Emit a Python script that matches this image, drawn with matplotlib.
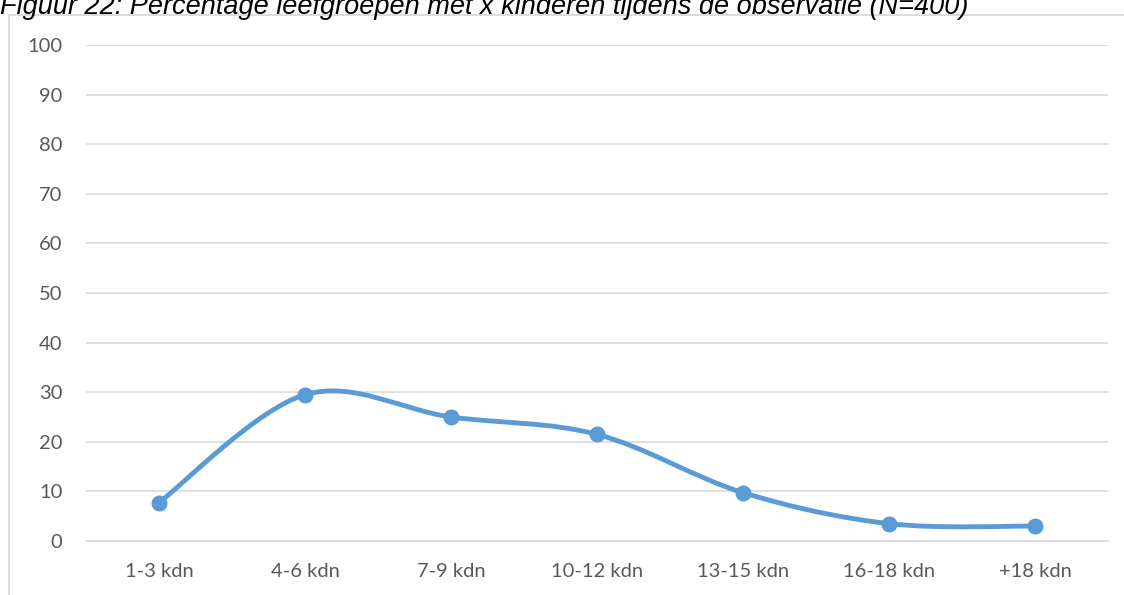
import matplotlib
matplotlib.use('Agg')
from matplotlib import pyplot as plt
from matplotlib.path import Path
from matplotlib.patches import PathPatch, Rectangle

categories = ['1-3 kdn', '4-6 kdn', '7-9 kdn', '10-12 kdn', '13-15 kdn', '16-18 kdn', '+18 kdn']
percentages = [7.75, 29.5, 25.0, 21.5, 9.75, 3.5, 3.0]
y_ticks = [0, 10, 20, 30, 40, 50, 60, 70, 80, 90, 100]
title = 'Figuur 22: Percentage leefgroepen met x kinderen tijdens de observatie (N=400)'

line_color = '#5b9bd5'
grid_color = '#d9d9d9'
text_color = '#595959'


def smooth_path(xs, ys):
    # bezier segments like the smoothed line of a spreadsheet chart
    verts = [(xs[0], ys[0])]
    codes = [Path.MOVETO]
    n = len(xs)
    for i in range(n - 1):
        x0, y0 = (xs[i - 1], ys[i - 1]) if i > 0 else (xs[i], ys[i])
        x3, y3 = (xs[i + 2], ys[i + 2]) if i + 2 < n else (xs[i + 1], ys[i + 1])
        c1 = (xs[i] + (xs[i + 1] - x0) / 6, ys[i] + (ys[i + 1] - y0) / 6)
        c2 = (xs[i + 1] - (x3 - xs[i]) / 6, ys[i + 1] - (y3 - ys[i]) / 6)
        verts += [c1, c2, (xs[i + 1], ys[i + 1])]
        codes += [Path.CURVE4] * 3
    return Path(verts, codes)


fig = plt.figure(figsize=(11.24, 5.95), dpi=100)
ax = fig.add_axes([86 / 1124, 1 - 541 / 595, (1108 - 86) / 1124, (541 - 45) / 595])

# chart frame, cropped at right and bottom
fig.patches.append(Rectangle((9 / 1124, -0.05), 1.2, 1 - 15 / 595 + 0.05, transform=fig.transFigure,
                             fill=False, edgecolor=grid_color, linewidth=1.3))

xs = list(range(len(categories)))
ax.add_patch(PathPatch(smooth_path(xs, percentages), fill=False, edgecolor=line_color,
                       linewidth=3.5, capstyle='round', joinstyle='round', zorder=3))
ax.plot(xs, percentages, linestyle='none', marker='o', markersize=10.5, color=line_color, zorder=4)

ax.set_xlim(-0.5, len(categories) - 0.5)
ax.set_ylim(0, 100)
ax.set_yticks(y_ticks)
ax.set_xticks(xs)
ax.set_xticklabels(categories)
ax.yaxis.grid(True, color=grid_color, linewidth=1.2)
ax.set_axisbelow(True)
for side in ['top', 'right', 'left']:
    ax.spines[side].set_visible(False)
ax.spines['bottom'].set_color(grid_color)
ax.spines['bottom'].set_linewidth(1.2)
ax.tick_params(length=0, labelsize=14.5, labelcolor=text_color)
ax.tick_params(axis='y', pad=17)
ax.tick_params(axis='x', pad=16)
for lbl in ax.get_xticklabels() + ax.get_yticklabels():
    lbl.set_family(['Lato', 'DejaVu Sans'])

# title sits partly above the top edge, as in the source image
fig.text(0, 1 - 14 / 595, title, fontsize=19.5, style='italic', family=['Liberation Sans', 'DejaVu Sans'],
         va='baseline', ha='left', color='black')

fig.savefig('out.png', dpi=100)
